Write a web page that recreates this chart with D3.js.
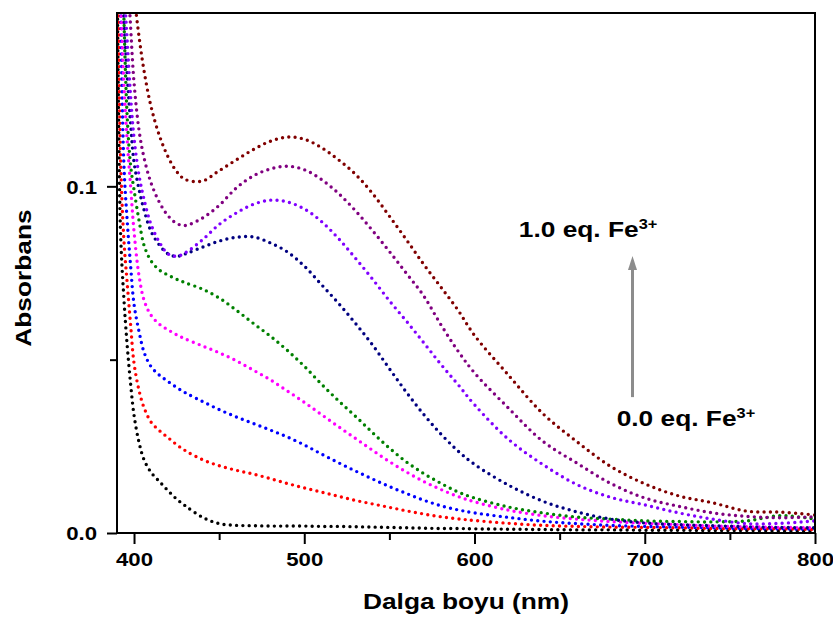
<!DOCTYPE html>
<html lang="en">
<head>
<meta charset="utf-8">
<script src="https://d3js.org/d3.v7.min.js"></script>
<style>
  body { margin: 0; background: #fff; }
  svg text { font-family: "Liberation Sans", Arial, sans-serif; font-weight: bold; fill: #000; }
</style>
</head>
<body>
<script>
// wavelengths (nm) shared by every spectrum
const wavelength = [390, 392, 394, 396, 398, 400, 403, 406, 410, 415, 420, 425, 430, 440, 450, 460, 470, 480, 490, 500,
  510, 520, 530, 540, 550, 560, 570, 580, 590, 600, 620, 640, 660, 680, 700, 720, 740, 760, 780, 800];

// absorbance, from 0.0 eq. (black) to 1.0 eq. Fe3+ (dark red)
const absBlack = [0.17, 0.088, 0.068, 0.054, 0.043, 0.034, 0.026, 0.021, 0.0175, 0.0148, 0.0122, 0.0098, 0.0079, 0.0046, 0.0027, 0.0022, 0.0021, 0.002, 0.002, 0.002,
  0.0019, 0.0019, 0.0018, 0.0017, 0.0016, 0.0015, 0.0014, 0.0013, 0.0013, 0.0012, 0.0011, 0.001, 0.0009, 0.0009, 0.0008, 0.0008, 0.0007, 0.0007, 0.0006, 0.0006];
const absRed = [0.2, 0.11, 0.085, 0.072, 0.06, 0.049, 0.041, 0.036, 0.032, 0.0295, 0.0275, 0.0255, 0.0238, 0.0212, 0.0194, 0.0181, 0.017, 0.0157, 0.0143, 0.013,
  0.0118, 0.0106, 0.0094, 0.0084, 0.0074, 0.0064, 0.0055, 0.0047, 0.0041, 0.0036, 0.0028, 0.0022, 0.0019, 0.0017, 0.0016, 0.0015, 0.0013, 0.0012, 0.0012, 0.001];
const absBlue = [0.22, 0.16, 0.107, 0.09, 0.077, 0.066, 0.058, 0.052, 0.048, 0.0455, 0.0437, 0.042, 0.0405, 0.038, 0.0356, 0.0335, 0.0316, 0.0297, 0.0277, 0.0254,
  0.0228, 0.0203, 0.0179, 0.0156, 0.0134, 0.0114, 0.0095, 0.0079, 0.0067, 0.0058, 0.0045, 0.0034, 0.0027, 0.0022, 0.0019, 0.0017, 0.0015, 0.0013, 0.0012, 0.0011];
const absMagenta = [0.2, 0.16, 0.13, 0.113, 0.1, 0.087, 0.074, 0.067, 0.0628, 0.0602, 0.0586, 0.0572, 0.056, 0.054, 0.052, 0.0497, 0.047, 0.0442, 0.041, 0.0377,
  0.0342, 0.0307, 0.0273, 0.0239, 0.0206, 0.0176, 0.0149, 0.0126, 0.0106, 0.009, 0.0066, 0.005, 0.004, 0.0033, 0.0028, 0.0024, 0.002, 0.0018, 0.0016, 0.0015];
const absGreen = [0.25, 0.2, 0.15, 0.12, 0.106, 0.099, 0.09, 0.0828, 0.0785, 0.0758, 0.0744, 0.0732, 0.0722, 0.0704, 0.0678, 0.0643, 0.0605, 0.0568, 0.0527, 0.0481,
  0.043, 0.0382, 0.0337, 0.029, 0.0245, 0.0205, 0.0172, 0.0144, 0.0119, 0.0101, 0.0075, 0.0058, 0.0046, 0.004, 0.0035, 0.0033, 0.0032, 0.0035, 0.005, 0.004];
const absNavy = [0.22, 0.18, 0.15, 0.132, 0.118, 0.107, 0.099, 0.093, 0.087, 0.083, 0.0805, 0.0798, 0.0805, 0.0824, 0.0842, 0.0853, 0.0854, 0.0837, 0.0811, 0.077,
  0.0717, 0.0663, 0.0605, 0.0543, 0.0474, 0.0406, 0.0343, 0.0287, 0.0238, 0.0198, 0.0138, 0.0092, 0.0061, 0.004, 0.0029, 0.0024, 0.0021, 0.0018, 0.0016, 0.0015];
const absViolet = [0.24, 0.2, 0.16, 0.142, 0.126, 0.114, 0.103, 0.096, 0.089, 0.0838, 0.0805, 0.0798, 0.0808, 0.0845, 0.089, 0.0923, 0.0948, 0.096, 0.0955, 0.0935,
  0.0899, 0.085, 0.0793, 0.0733, 0.067, 0.0611, 0.055, 0.0488, 0.043, 0.037, 0.027, 0.0198, 0.014, 0.0103, 0.0081, 0.0058, 0.004, 0.0027, 0.0028, 0.0035];
const absPurple = [0.3, 0.24, 0.2, 0.165, 0.146, 0.13, 0.116, 0.108, 0.101, 0.0953, 0.0915, 0.0893, 0.0887, 0.0908, 0.0945, 0.0995, 0.103, 0.105, 0.1058, 0.1048,
  0.102, 0.098, 0.093, 0.0873, 0.0812, 0.0749, 0.0685, 0.0603, 0.0527, 0.0462, 0.036, 0.0265, 0.0202, 0.0143, 0.0101, 0.0077, 0.0058, 0.0048, 0.0044, 0.0047];
const absMaroon = [0.4, 0.3, 0.24, 0.2, 0.172, 0.156, 0.143, 0.133, 0.123, 0.1145, 0.1085, 0.1043, 0.102, 0.1015, 0.1045, 0.1076, 0.1106, 0.113, 0.1142, 0.1136,
  0.1112, 0.1077, 0.1035, 0.098, 0.0914, 0.0846, 0.0776, 0.0711, 0.0645, 0.057, 0.0455, 0.0345, 0.0264, 0.0192, 0.0142, 0.0107, 0.0087, 0.0063, 0.006, 0.0052];

const spectra = [absBlack, absRed, absBlue, absMagenta, absGreen, absNavy, absViolet, absPurple, absMaroon];
const colours = ['#000000', '#ff0000', '#0000ff', '#ff00ff', '#008000', '#000080', '#8000ff', '#800080', '#800000'];

const xTicks = [400, 500, 600, 700, 800];
const xMinorTicks = [450, 550, 650, 750];
const yTicks = [0, 0.1];
const yMinorTicks = [0.05];

// annotation: arrow from 0.0 eq. up to 1.0 eq.
const arrowAt = {nm: 692.8, from: 0.0392, to: 0.0799};
const labelTop = {nm: 626, abs: 0.0854, text: '1.0 eq. Fe'};
const labelBottom = {nm: 683.5, abs: 0.0309, text: '0.0 eq. Fe'};

// dimensions
const width = 833, height = 620;
const mLeft = 117, mRight = 815, mTop = 13, mBottom = 533;
const stretch = 1.17; // text in the picture is a bit wider than normal

const svg = d3.select('body').append('svg')
  .attr('width', width).attr('height', height);

const x = d3.scaleLinear().domain([390, 800]).range([mLeft, mRight]);
const y = d3.scaleLinear().domain([0, 0.15]).range([mBottom, mTop]);

svg.append('clipPath').attr('id', 'plot')
  .append('rect').attr('x', mLeft).attr('y', mTop)
  .attr('width', mRight - mLeft).attr('height', mBottom - mTop);

// spectra as dotted lines
const line = d3.line()
  .x((d, i) => x(wavelength[i]))
  .y(d => y(d))
  .curve(d3.curveCatmullRom.alpha(0.5));

svg.append('g').attr('clip-path', 'url(#plot)')
  .selectAll('path').data(spectra).join('path')
  .attr('fill', 'none')
  .attr('stroke', (d, i) => colours[i])
  .attr('stroke-width', 3.4)
  .attr('stroke-linecap', 'round')
  .attr('stroke-dasharray', '0 6.3')
  .attr('d', line);

// axes
const xAxis = svg.append('g').attr('transform', `translate(0,${mBottom})`)
  .call(d3.axisBottom(x).tickValues(xTicks).tickSize(11).tickPadding(9).tickFormat(d3.format('d')));
svg.append('g').attr('transform', `translate(0,${mBottom})`)
  .call(d3.axisBottom(x).tickValues(xMinorTicks).tickSize(7).tickFormat(''));
const yAxis = svg.append('g').attr('transform', `translate(${mLeft},0)`)
  .call(d3.axisLeft(y).tickValues(yTicks).tickSize(10).tickFormat(d3.format('.1f')));
svg.append('g').attr('transform', `translate(${mLeft},0)`)
  .call(d3.axisLeft(y).tickValues(yMinorTicks).tickSize(7).tickFormat(''));

svg.selectAll('.domain').remove();
svg.selectAll('.tick line').attr('stroke', '#000').attr('stroke-width', 2);

xAxis.selectAll('text')
  .attr('font-size', '19px')
  .attr('transform', `scale(${stretch},1)`);
yAxis.selectAll('text')
  .attr('font-size', '19px')
  .attr('x', -20 / stretch)
  .attr('dy', '0.36em')
  .attr('transform', `scale(${stretch},1)`);

// frame
svg.append('rect')
  .attr('x', mLeft).attr('y', mTop)
  .attr('width', mRight - mLeft).attr('height', mBottom - mTop)
  .attr('fill', 'none').attr('stroke', '#000').attr('stroke-width', 2);

// axis titles
svg.append('text')
  .attr('transform', `translate(${(mLeft + mRight) / 2},609) scale(${stretch},1)`)
  .attr('text-anchor', 'middle').attr('font-size', '22.5px')
  .text('Dalga boyu (nm)');
svg.append('text')
  .attr('transform', `translate(31,278) rotate(-90) scale(${stretch},1)`)
  .attr('text-anchor', 'middle').attr('font-size', '22.5px')
  .text('Absorbans');

// arrow
const ax = x(arrowAt.nm);
const tipY = y(arrowAt.to);
svg.append('line')
  .attr('x1', ax).attr('x2', ax)
  .attr('y1', y(arrowAt.from)).attr('y2', tipY + 12)
  .attr('stroke', '#8c8c8c').attr('stroke-width', 3);
svg.append('path')
  .attr('d', `M${ax},${tipY} L${ax - 4.5},${tipY + 14} L${ax + 4.5},${tipY + 14} Z`)
  .attr('fill', '#8c8c8c');

// labels with superscript charge
[labelTop, labelBottom].forEach(l => {
  const t = svg.append('text')
    .attr('transform', `translate(${x(l.nm)},${y(l.abs)}) scale(${stretch},1)`)
    .attr('font-size', '22.5px');
  t.append('tspan').text(l.text);
  t.append('tspan').attr('font-size', '14px').attr('dy', -8).text('3+');
});
</script>
</body>
</html>
